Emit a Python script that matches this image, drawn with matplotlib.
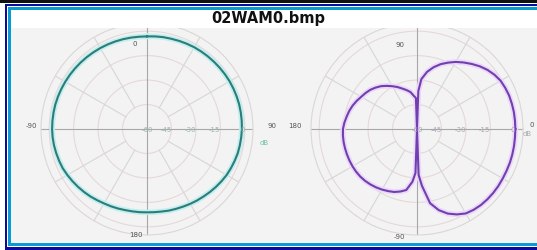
import numpy as np
import matplotlib
matplotlib.use("Agg")
from matplotlib import pyplot as plt
from matplotlib.patches import Rectangle

# left plot: azimuth pattern, 0 at top, clockwise, every 5 deg (dB)
left_theta = list(range(0, 365, 5))
left_db = [-3.2, -3.0, -2.8, -2.7, -2.5, -2.3, -2.1, -2.0, -1.9, -1.8, -1.7, -1.6,
           -1.5, -1.5, -1.5, -1.5, -1.6, -1.7, -1.8, -2.0, -2.2, -2.4, -2.8, -3.2,
           -3.6, -4.2, -4.8, -5.4, -6.0, -6.5, -7.0, -7.5, -7.9, -8.2, -8.6, -8.8,
           -8.9, -8.8, -8.7, -8.5, -8.1, -7.7, -7.3, -6.7, -6.0, -5.4, -4.8, -4.2,
           -3.6, -3.0, -2.7, -2.4, -2.1, -1.9, -1.8, -1.8, -1.8, -1.8, -1.9, -2.0,
           -2.1, -2.2, -2.3, -2.4, -2.5, -2.6, -2.7, -2.8, -2.9, -3.0, -3.1, -3.2, -3.2]

# right plot: elevation pattern, 0 at right, counter-clockwise (dB)
right_theta = [0, 5, 10, 15, 20, 25, 30, 35, 40, 45, 50, 55, 60, 65, 70, 75, 80, 85, 88,
               90, 92, 95, 100, 105, 110, 115, 120, 125, 130, 135, 140, 145, 150, 155,
               160, 165, 170, 175, 180, 185, 190, 195, 200, 205, 210, 215, 220, 225,
               230, 235, 240, 245, 250, 255, 260, 265, 268, 270, 272, 275, 280, 285,
               290, 295, 300, 305, 310, 315, 320, 325, 330, 335, 340, 345, 350, 355, 360]
right_db = [0.3, 0.3, 0.3, 0.2, 0.1, -0.3, -0.8, -2.0, -3.6, -5.6, -7.9, -10.2, -12.5,
            -15.1, -17.7, -20.8, -24.4, -29.3, -36.7,
            -60, -41, -39.8, -37, -35.3, -33.6, -31.6, -29.7, -27.7, -25.7, -24.1, -22.6,
            -21.5, -20.5, -19.2, -18.0, -17.0, -16.2, -15.3, -14.6, -14.4, -14.3, -14.3,
            -14.3, -14.3, -14.3, -14.4, -14.6, -15.0, -15.6, -16.3, -17.1, -18.0, -18.9,
            -20.3, -22.0, -27.5, -33, -60, -31.8, -25, -13.8, -8.5,
            -4.8, -2.2, -0.2, 0.5, 0.9, 1.0, 1.0, 0.9, 0.7, 0.6, 0.6, 0.5, 0.4, 0.3, 0.3]

ring_ticks = [-45, -30, -15, 0]
ring_labels = ["-45", "-30", "-15", "0"]
left_angle_labels = ["0", "90", "180", "-90"]
right_angle_labels = ["90", "0", "-90", "180"]
title = "02WAM0.bmp"

W, H = 537, 251
fig = plt.figure(figsize=(W / 100, H / 100), dpi=100)
fig.patch.set_facecolor("white")


def px_rect(x0, y0, x1, y1, color, z):
    r = Rectangle((x0 / W, 1 - y1 / H), (x1 - x0) / W, (y1 - y0) / H,
                  transform=fig.transFigure, facecolor=color, edgecolor="none", zorder=z)
    fig.add_artist(r)


# frame
px_rect(11, 29, W, 244, "#f3f3f3", -5)
px_rect(11, 11, W, 29, "white", 1)
px_rect(0, 0, W, 4, "#111111", 2)
px_rect(5, 5, W, 7, "#0a0a9c", 2)
px_rect(5, 5, 7, 251, "#0a0a9c", 2)
px_rect(5, 248, W, 251, "#0a0a9c", 2)
px_rect(8, 8, W, 10.5, "#0a9ad0", 2)
px_rect(8, 8, 10.5, 247, "#0a9ad0", 2)
px_rect(8, 244, W, 246.5, "#0a9ad0", 2)
fig.text(268 / W, 1 - 19 / H, title, ha="center", va="center", fontsize=10.5,
         fontweight="bold", color="#111111", zorder=3)

R = 106  # outer radius in px


def make_polar(cx, cy):
    ax = fig.add_axes([(cx - R) / W, 1 - (cy + R) / H, 2 * R / W, 2 * R / H],
                      projection="polar")
    ax.set_facecolor("none")
    ax.set_ylim(-60, 5)
    ax.set_yticks([])
    ax.set_xticks([])
    ax.grid(False)
    ax.spines["polar"].set_color("#dcd6d6")
    ax.spines["polar"].set_linewidth(0.8)
    full = np.linspace(0, 2 * np.pi, 200)
    for t in ring_ticks:
        ax.plot(full, [t] * len(full), color="#e6d8d8", lw=0.8, zorder=1)
    for a in range(0, 360, 30):
        if a % 90 == 0:
            ax.plot([np.radians(a)] * 2, [-60, 5], color="#a8a8a8", lw=0.8, zorder=1)
        else:
            ax.plot([np.radians(a)] * 2, [-45, 5], color="#d6d6d6", lw=0.8, zorder=1)
    return ax


def put(ax, dx, dy, s, ha, color):
    ax.text(0.5 + dx / (2 * R), 0.5 + dy / (2 * R), s, transform=ax.transAxes,
            ha=ha, va="center", fontsize=5, color=color)


# left chart
axl = make_polar(147, 130)
axl.set_theta_zero_location("N")
axl.set_theta_direction(-1)
th = np.radians(left_theta)
axl.plot(th, left_db, color="#c4eeee", lw=4, zorder=3)
axl.plot(th, left_db, color="#2b7d79", lw=1.5, zorder=4)
for t, s in zip(ring_ticks, ring_labels):
    axl.text(np.radians(90), t, s, ha="right", va="center", fontsize=5,
             color="#98b4b4", zorder=5)
axl.text(0, -60, "-60", ha="center", va="center", fontsize=5, color="#98b4b4", zorder=5)
put(axl, 113, -13, "dB", "left", "#6cc0a8")
put(axl, -10, 86, left_angle_labels[0], "right", "#555555")
put(axl, 120, 4, left_angle_labels[1], "left", "#555555")
put(axl, -4, -105, left_angle_labels[2], "right", "#555555")
put(axl, -110, 4, left_angle_labels[3], "right", "#555555")

# right chart
axr = make_polar(417, 130)
th = np.radians(right_theta)
axr.plot(th, right_db, color="#ecd8f8", lw=4, zorder=3)
axr.plot(th, right_db, color="#7040b0", lw=1.5, zorder=4)
for t, s in zip(ring_ticks, ring_labels):
    axr.text(0, t, s, ha="right", va="center", fontsize=5, color="#a8a8b4", zorder=5)
axr.text(0, -60, "-60", ha="center", va="center", fontsize=5, color="#a8a8b4", zorder=5)
put(axr, 106, -4, "dB", "left", "#a8a8b4")
put(axr, -12, 85, right_angle_labels[0], "right", "#555555")
put(axr, 113, 5, right_angle_labels[1], "left", "#555555")
put(axr, -12, -107, right_angle_labels[2], "right", "#555555")
put(axr, -115, 4, right_angle_labels[3], "right", "#555555")

fig.savefig("out.png", dpi=100)
